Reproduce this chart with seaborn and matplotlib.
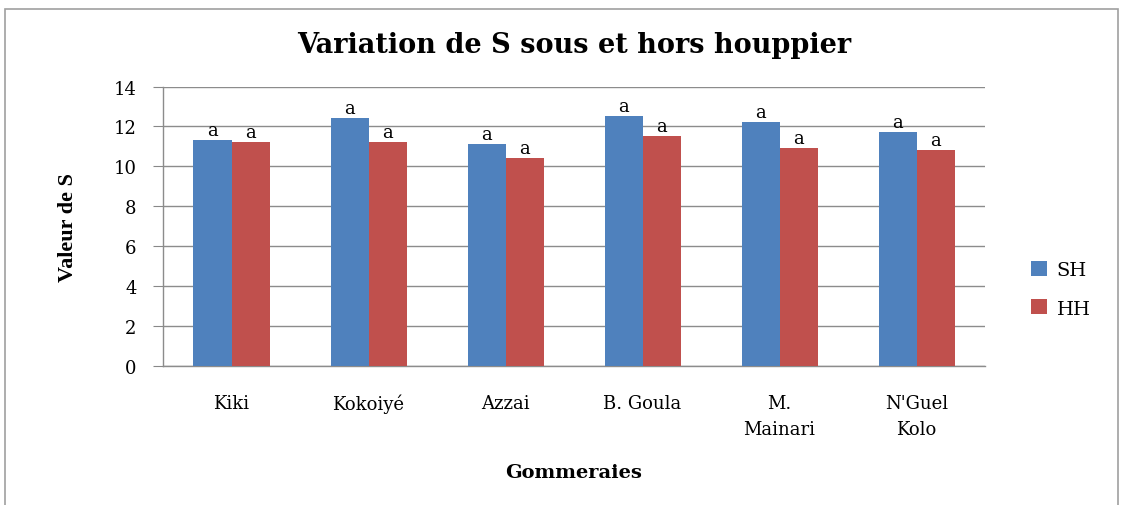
import matplotlib
matplotlib.use("Agg")
import matplotlib.pyplot as plt
import seaborn as sns
import pandas as pd
from matplotlib.patches import Rectangle

categories = ["Kiki", "Kokoiyé", "Azzai", "B. Goula", "M.\nMainari", "N'Guel\nKolo"]
sh_values = [11.3, 12.4, 11.1, 12.5, 12.2, 11.7]
hh_values = [11.2, 11.2, 10.4, 11.5, 10.9, 10.8]
series = ["SH", "HH"]
letters_sh = ["a"] * 6
letters_hh = ["a"] * 6
yticks = [0, 2, 4, 6, 8, 10, 12, 14]

df = pd.DataFrame({
    "Gommeraies": categories * 2,
    "Valeur": sh_values + hh_values,
    "Serie": ["SH"] * 6 + ["HH"] * 6,
})

sns.set_style("white")
plt.rcParams['font.family'] = ['DejaVu Serif', 'Liberation Serif']
plt.rcParams['text.color'] = 'black'
plt.rcParams['axes.labelcolor'] = 'black'
plt.rcParams['xtick.color'] = 'black'
plt.rcParams['ytick.color'] = 'black'

fig = plt.figure(figsize=(11.25, 5.06), dpi=100)
ax = fig.add_axes([0.1449, 0.2747, 0.7307, 0.5523])

palette = {"SH": "#4F81BD", "HH": "#C0504D"}
sns.barplot(data=df, x="Gommeraies", y="Valeur", hue="Serie", hue_order=series,
            palette=palette, width=0.555, ax=ax, errorbar=None, saturation=1,
            edgecolor="none", zorder=3)

ax.set_ylim(0, 14)
ax.set_yticks(yticks)
ax.set_yticklabels([str(v) for v in yticks], fontsize=13)
ax.tick_params(axis='y', length=7, color='#888888', pad=12, left=True)
ax.tick_params(axis='x', length=0, pad=20, labelsize=13)
for t in ax.get_xticklabels():
    t.set_linespacing(1.6)
ax.yaxis.grid(True, color='#8c8c8c', linewidth=1, zorder=0)
ax.set_axisbelow(True)
for s in ['top', 'right']:
    ax.spines[s].set_visible(False)
for s in ['left', 'bottom']:
    ax.spines[s].set_color('#8c8c8c')
    ax.spines[s].set_linewidth(1)

ax.set_ylabel("Valeur de S", fontsize=16, fontweight='bold', labelpad=26,
              family=['Liberation Serif'])
ax.set_xlabel("Gommeraies", fontsize=14, fontweight='bold', labelpad=18)
ax.set_title("Variation de S sous et hors houppier", fontsize=19.5, fontweight='bold', pad=25)

# letters above bars
for cont, labs in zip(ax.containers, [letters_sh, letters_hh]):
    ax.bar_label(cont, labels=labs, padding=1, fontsize=13)

handles, labels = ax.get_legend_handles_labels()
ax.legend(handles, labels, loc='center left', bbox_to_anchor=(1.035, 0.275),
          frameon=False, fontsize=14, handlelength=0.8, handleheight=0.8,
          labelspacing=1.05, handletextpad=0.5)

fig.patches.append(Rectangle((5/1125, -0.01), 1113/1125, 1 - 10/506 + 0.01,
                             transform=fig.transFigure, fill=False,
                             edgecolor='#a0a0a0', linewidth=1.2))

fig.savefig("out.png", dpi=100)
